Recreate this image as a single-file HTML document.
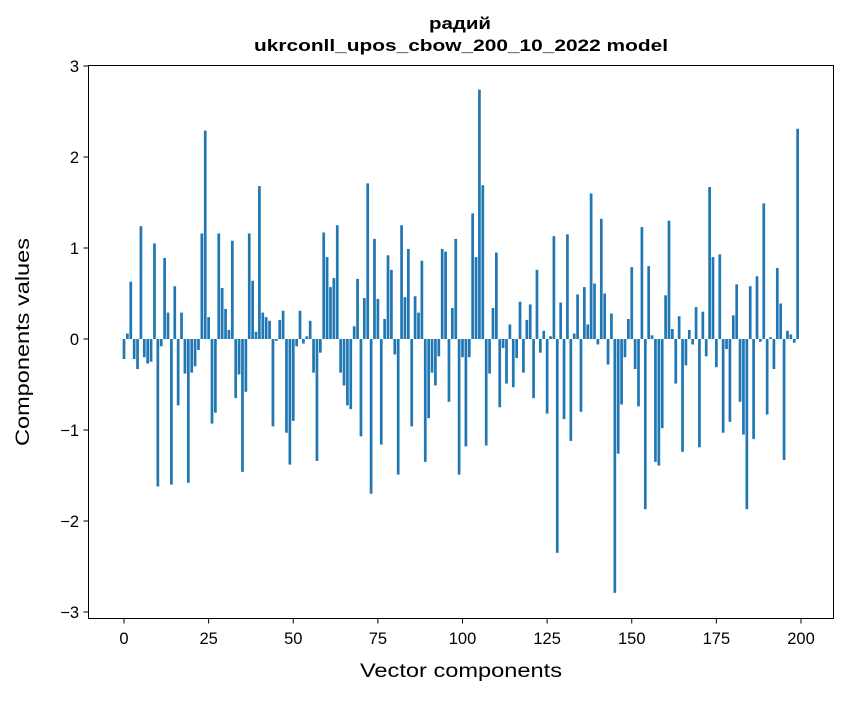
<!DOCTYPE html>
<html><head><meta charset="utf-8"><style>
body{margin:0;background:#fff;}
svg text{font-family:"Liberation Sans","DejaVu Sans",sans-serif;fill:#000;}
</style></head><body>
<svg id="chart" width="847" height="696" xmlns="http://www.w3.org/2000/svg">
<rect width="847" height="696" fill="#fff"/>
<text x="460" y="29" text-anchor="middle" font-size="17" font-weight="bold" textLength="62" lengthAdjust="spacingAndGlyphs">радий</text>
<text x="461" y="51" text-anchor="middle" font-size="17" font-weight="bold" textLength="414" lengthAdjust="spacingAndGlyphs">ukrconll_upos_cbow_200_10_2022 model</text>
<g id="bars"></g>
<g id="axes"></g>
<rect x="88.5" y="65.5" width="745" height="553" fill="none" stroke="#000" stroke-width="1"/>
<text x="461" y="677" text-anchor="middle" font-size="19" textLength="202" lengthAdjust="spacingAndGlyphs">Vector components</text>
<text transform="translate(29,342) rotate(-90)" text-anchor="middle" font-size="19" textLength="208" lengthAdjust="spacingAndGlyphs">Components values</text>
</svg>
<script>
const values=[-0.22,0.06,0.63,-0.22,-0.33,1.24,-0.2,-0.27,-0.25,1.05,-1.62,-0.08,0.89,0.29,-1.6,0.58,-0.73,0.29,-0.38,-1.58,-0.37,-0.3,-0.12,1.16,2.29,0.24,-0.93,-0.81,1.16,0.56,0.33,0.1,1.08,-0.65,-0.39,-1.46,-0.58,1.16,0.64,0.08,1.68,0.29,0.24,0.2,-0.96,-0.02,0.21,0.31,-1.03,-1.38,-0.9,-0.08,0.31,-0.05,0.03,0.2,-0.37,-1.34,-0.15,1.17,0.9,0.57,0.67,1.25,-0.37,-0.51,-0.73,-0.77,0.14,0.66,-1.07,0.45,1.71,-1.7,1.1,0.44,-1.16,0.22,0.92,0.76,-0.17,-1.49,1.25,0.46,0.99,-0.96,0.47,0.29,0.86,-1.35,-0.87,-0.37,-0.51,-0.19,0.99,0.96,-0.69,0.34,1.1,-1.49,-0.2,-1.18,-0.2,1.38,0.9,2.74,1.69,-1.17,-0.38,0.34,0.95,-0.75,-0.1,-0.49,0.16,-0.53,-0.21,0.41,-0.37,0.21,0.38,-0.65,0.76,-0.15,0.09,-0.82,0.03,1.13,-2.35,0.4,-0.88,1.15,-1.12,0.06,0.49,-0.8,0.57,0.16,1.6,0.61,-0.06,1.32,0.5,-0.28,0.28,-2.79,-1.26,-0.72,-0.2,0.22,0.79,-0.33,-0.74,1.23,-1.87,0.8,0.04,-1.35,-1.39,-0.98,0.48,1.3,0.11,-0.49,0.25,-1.24,-0.29,0.1,-0.06,0.35,-1.19,0.3,-0.19,1.67,0.9,-0.31,0.93,-1.03,-0.11,-0.91,0.26,0.6,-0.69,-1.05,-1.87,0.58,-1.1,0.69,-0.03,1.49,-0.83,0.02,-0.33,0.78,0.39,-1.33,0.09,0.05,-0.04,2.31];
const xTicks=[0,25,50,75,100,125,150,175,200];
const yTicks=[-3,-2,-1,0,1,2,3];
const NS="http://www.w3.org/2000/svg";
function xs(v){return 124+v*3.385;}
function ys(v){return 339-v*91;}
const bars=document.getElementById('bars');
values.forEach((v,i)=>{
  const r=document.createElementNS(NS,'rect');
  
  
  const w=3.385*0.8;
  r.setAttribute('x',xs(i)-w/2);
  r.setAttribute('y',Math.min(ys(v),ys(0)));
  r.setAttribute('width',w);
  r.setAttribute('height',Math.abs(ys(v)-ys(0)));
  r.setAttribute('fill','#1f77b4');
  bars.appendChild(r);
});
const axes=document.getElementById('axes');
xTicks.forEach(t=>{
  const l=document.createElementNS(NS,'line');
  
  
  l.setAttribute('x1',xs(t));l.setAttribute('x2',xs(t));
  l.setAttribute('y1',618.5);l.setAttribute('y2',623.5);
  l.setAttribute('stroke','#000');
  axes.appendChild(l);
  const tx=document.createElementNS(NS,'text');
  
  
  tx.setAttribute('x',xs(t));tx.setAttribute('y',644);
  tx.setAttribute('text-anchor','middle');tx.setAttribute('font-size','16.5');
  tx.textContent=t;
  axes.appendChild(tx);
});
yTicks.forEach(t=>{
  const l=document.createElementNS(NS,'line');
  
  
  l.setAttribute('x1',83.5);l.setAttribute('x2',88.5);
  l.setAttribute('y1',ys(t));l.setAttribute('y2',ys(t));
  l.setAttribute('stroke','#000');
  axes.appendChild(l);
  const tx=document.createElementNS(NS,'text');
  
  
  tx.setAttribute('x',79);tx.setAttribute('y',ys(t)+6);
  tx.setAttribute('text-anchor','end');tx.setAttribute('font-size','16.5');
  tx.textContent=(t<0?'\u2212'+(-t):t);
  axes.appendChild(tx);
});
</script>
</body></html>
